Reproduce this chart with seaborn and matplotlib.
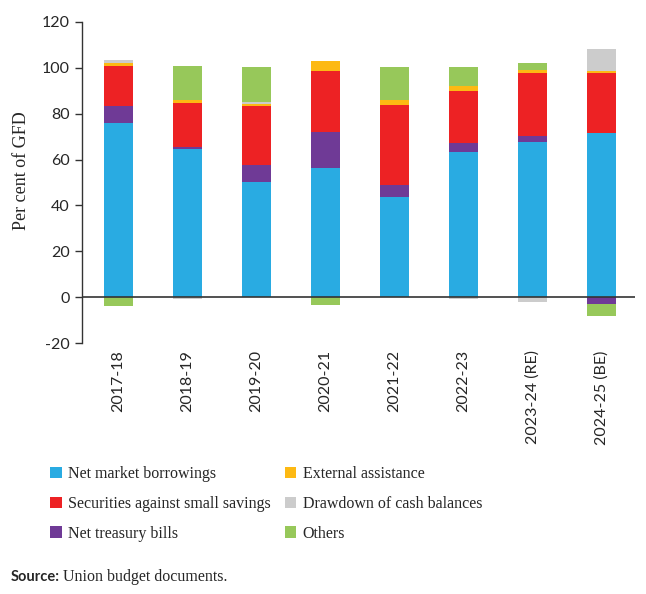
import numpy as np
import matplotlib
matplotlib.use("Agg")
import matplotlib.pyplot as plt
import seaborn as sns
from matplotlib.patches import Patch

years = ["2017-18", "2018-19", "2019-20", "2020-21", "2021-22", "2022-23",
         "2023-24 (RE)", "2024-25 (BE)"]

# per cent of GFD
net_market_borrowings = [75.8, 64.5, 50.1, 56.2, 43.9, 63.2, 67.6, 71.6]
net_treasury_bills = [7.4, 1.0, 7.7, 15.7, 4.9, 3.9, 2.8, -2.9]
small_savings = [17.4, 19.3, 25.6, 26.6, 34.9, 22.6, 27.2, 26.0]
external_assistance = [1.3, 1.0, 0.8, 4.6, 2.4, 2.2, 1.5, 1.0]
cash_drawdown = [1.6, -0.7, 0.8, 0.0, 0.0, -0.7, -2.0, 9.6]
others = [-3.7, 14.7, 15.2, -3.5, 14.1, 8.5, 2.8, -5.4]

# stacking order as drawn in the bars
series = [
    ("Net market borrowings", net_market_borrowings, "#29ABE2"),
    ("Net treasury bills", net_treasury_bills, "#6F3A96"),
    ("Securities against small savings", small_savings, "#ED2224"),
    ("External assistance", external_assistance, "#FDB913"),
    ("Drawdown of cash balances", cash_drawdown, "#CCCCCC"),
    ("Others", others, "#97C85A"),
]
legend_order = ["Net market borrowings", "Securities against small savings",
                "Net treasury bills", "External assistance",
                "Drawdown of cash balances", "Others"]

sns.set_style("white")
plt.rcParams["axes.unicode_minus"] = False
serif = ["Liberation Serif", "DejaVu Serif"]
sans = ["Lato", "DejaVu Sans"]

fig = plt.figure(figsize=(6.46, 5.94), dpi=100)
ax = fig.add_axes([0.127, 0.422, 0.856, 0.5415])

x = np.arange(len(years))
pos_bottom = np.zeros(len(years))
neg_bottom = np.zeros(len(years))
colors = {}
for name, vals, col in series:
    vals = np.array(vals)
    bottom = np.where(vals >= 0, pos_bottom, neg_bottom)
    ax.bar(x, vals, bottom=bottom, width=0.42, color=col, linewidth=0)
    pos_bottom += np.where(vals >= 0, vals, 0)
    neg_bottom += np.where(vals < 0, vals, 0)
    colors[name] = col

ax.axhline(0, color="#333333", linewidth=1.2, zorder=5)

ax.set_xlim(-0.53, 7.49)
ax.set_ylim(-20, 120)
ax.set_yticks(range(-20, 121, 20))
ax.set_xticks(x)
ax.set_xticklabels(years, rotation=90, fontfamily=sans, fontsize=11.5)
for t in ax.get_yticklabels():
    t.set_fontfamily(sans)
    t.set_fontsize(11.5)
ax.tick_params(axis="y", length=5, width=1, color="#333333", pad=4, left=True)
ax.tick_params(axis="x", length=0, pad=5)
sns.despine(ax=ax, bottom=True)
ax.spines["left"].set_color("#333333")
ax.spines["left"].set_linewidth(1)

fig.text(22 / 646, 1 - 171 / 594, "Per cent of GFD", rotation=90,
         ha="center", va="center", fontfamily=serif, fontsize=13)

handles = [Patch(facecolor=colors[n], edgecolor="none", label=n) for n in legend_order]
fig.legend(handles=handles, ncol=2, loc="upper left",
           bbox_to_anchor=(36 / 646, 1 - 452 / 594), frameon=False,
           prop={"family": serif, "size": 11.5}, handlelength=0.7,
           handleheight=0.7, handletextpad=0.4, columnspacing=0.9,
           labelspacing=0.85)

fig.text(11 / 646, 1 - 577 / 594, "Source:", fontweight="bold",
         fontfamily=sans, fontsize=10.5, va="center")
fig.text(63 / 646, 1 - 577 / 594, "Union budget documents.",
         fontfamily=serif, fontsize=11.5, va="center")

fig.savefig("out.png", dpi=100)
